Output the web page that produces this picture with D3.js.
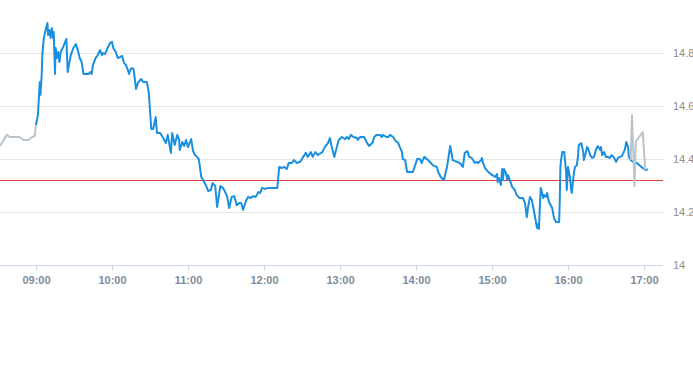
<!DOCTYPE html>
<html>
<head>
<meta charset="utf-8">
<script src="https://cdn.jsdelivr.net/npm/d3@7"></script>
<style>
  body { margin: 0; background: #fff; }
  svg { display: block; font-family: "Liberation Sans", Arial, sans-serif; }
</style>
</head>
<body>
<div class="chart"></div>
<script>
// extended hours (grey) and regular session (blue), [time, price]
var preMarket = [
  ["08:30", 14.442], ["08:32", 14.453], ["08:37", 14.491], ["08:39:30", 14.483],
  ["08:47", 14.483], ["08:50", 14.472], ["08:54", 14.472], ["08:57", 14.483],
  ["08:59", 14.487], ["09:00", 14.528]
];

var session = [
  ["09:00", 14.528], ["09:01:30", 14.566], ["09:03", 14.691], ["09:03:30", 14.642],
  ["09:04:30", 14.717], ["09:05", 14.792], ["09:06", 14.849], ["09:07", 14.875],
  ["09:08", 14.894], ["09:09", 14.913], ["09:09:30", 14.868], ["09:10:30", 14.887],
  ["09:11:30", 14.857], ["09:12:30", 14.894], ["09:13:30", 14.857], ["09:14", 14.879],
  ["09:15", 14.721], ["09:15:30", 14.819], ["09:16:30", 14.781], ["09:17:30", 14.804],
  ["09:18:30", 14.766], ["09:19:30", 14.804], ["09:21:30", 14.823], ["09:23", 14.842],
  ["09:24", 14.853], ["09:25", 14.728], ["09:26", 14.755], ["09:27:30", 14.792],
  ["09:29:30", 14.819], ["09:31:30", 14.834], ["09:33", 14.811], ["09:34:30", 14.781],
  ["09:36", 14.766], ["09:37:30", 14.721], ["09:41:30", 14.721], ["09:43", 14.728],
  ["09:44", 14.721], ["09:45", 14.755], ["09:47", 14.781], ["09:48:30", 14.789],
  ["09:50:30", 14.811], ["09:52", 14.792], ["09:53", 14.800], ["09:54:30", 14.796],
  ["09:56:30", 14.819], ["09:58:30", 14.838], ["10:00", 14.842], ["10:01", 14.819],
  ["10:03", 14.804], ["10:04:30", 14.781], ["10:06:30", 14.785], ["10:08", 14.789],
  ["10:09:30", 14.762], ["10:11", 14.755], ["10:12:30", 14.736], ["10:13:30", 14.721],
  ["10:14:30", 14.736], ["10:15:30", 14.743], ["10:17", 14.740], ["10:19", 14.664],
  ["10:20:30", 14.687], ["10:23", 14.702], ["10:24:30", 14.691], ["10:27:30", 14.691],
  ["10:29", 14.653], ["10:31", 14.513], ["10:32:30", 14.513], ["10:34:30", 14.558],
  ["10:35:30", 14.498], ["10:38", 14.498], ["10:40:30", 14.479], ["10:42:30", 14.460],
  ["10:44", 14.491], ["10:46:30", 14.423], ["10:47:30", 14.498], ["10:49:30", 14.453],
  ["10:51:30", 14.491], ["10:53", 14.472], ["10:53:30", 14.434], ["10:55:30", 14.464],
  ["10:57", 14.449], ["10:58:30", 14.472], ["11:00", 14.445], ["11:02:30", 14.475],
  ["11:04", 14.430], ["11:05:30", 14.415], ["11:07", 14.408], ["11:08:30", 14.400],
  ["11:10:30", 14.332], ["11:12", 14.321], ["11:14", 14.302], ["11:16", 14.279],
  ["11:18", 14.283], ["11:19:30", 14.309], ["11:21:30", 14.298], ["11:23", 14.219],
  ["11:25:30", 14.298], ["11:27:30", 14.291], ["11:29", 14.279], ["11:31", 14.257],
  ["11:32:30", 14.215], ["11:34:30", 14.257], ["11:36:30", 14.260], ["11:38:30", 14.226],
  ["11:40:30", 14.234], ["11:42", 14.234], ["11:43:30", 14.208], ["11:46", 14.245],
  ["11:47:30", 14.257], ["11:49:30", 14.253], ["11:51:30", 14.260], ["11:53:30", 14.257],
  ["11:55:30", 14.275], ["11:57", 14.272], ["11:58:30", 14.291], ["12:01", 14.287],
  ["12:03", 14.291], ["12:10:30", 14.291], ["12:12", 14.370], ["12:14", 14.366],
  ["12:16", 14.370], ["12:18", 14.362], ["12:19:30", 14.385], ["12:22", 14.385],
  ["12:23:30", 14.396], ["12:26", 14.385], ["12:28:30", 14.389], ["12:31", 14.408],
  ["12:33", 14.423], ["12:34:30", 14.408], ["12:37", 14.426], ["12:38:30", 14.408],
  ["12:40:30", 14.426], ["12:42:30", 14.415], ["12:46", 14.426], ["12:48", 14.445],
  ["12:50:30", 14.460], ["12:52", 14.479], ["12:53:30", 14.445], ["12:55:30", 14.408],
  ["12:57:30", 14.445], ["12:59", 14.472], ["13:01:30", 14.483], ["13:04", 14.475],
  ["13:05:30", 14.483], ["13:07", 14.475], ["13:08:30", 14.491], ["13:10:30", 14.483],
  ["13:13:30", 14.479], ["13:14", 14.472], ["13:16", 14.483], ["13:19", 14.483],
  ["13:21:30", 14.460], ["13:23", 14.449], ["13:25:30", 14.460], ["13:27", 14.483],
  ["13:29", 14.491], ["13:31:30", 14.491], ["13:33", 14.483], ["13:34", 14.491],
  ["13:36:30", 14.483], ["13:38", 14.483], ["13:39:30", 14.491], ["13:42", 14.483],
  ["13:44", 14.468], ["13:46", 14.460], ["13:47:30", 14.442], ["13:49", 14.426],
  ["13:49:30", 14.400], ["13:51:30", 14.396], ["13:53", 14.351], ["13:57:30", 14.351],
  ["14:01", 14.400], ["14:03", 14.400], ["14:04:30", 14.385], ["14:06:30", 14.408],
  ["14:09:30", 14.396], ["14:12:30", 14.381], ["14:14", 14.374], ["14:16:30", 14.370],
  ["14:17:30", 14.351], ["14:19:30", 14.332], ["14:22", 14.321], ["14:24:30", 14.370],
  ["14:27", 14.449], ["14:29", 14.396], ["14:32:30", 14.389], ["14:34:30", 14.385],
  ["14:37", 14.370], ["14:38:30", 14.423], ["14:40:30", 14.430], ["14:42", 14.408],
  ["14:44", 14.404], ["14:45", 14.396], ["14:46:30", 14.385], ["14:48", 14.389],
  ["14:49", 14.385], ["14:51:30", 14.396], ["14:52", 14.404], ["14:53", 14.385],
  ["14:54:30", 14.366], ["14:57", 14.351], ["15:00", 14.340], ["15:02:30", 14.332],
  ["15:04", 14.343], ["15:04:30", 14.313], ["15:05:30", 14.328], ["15:07", 14.302],
  ["15:08", 14.362], ["15:08:30", 14.321], ["15:09:30", 14.362], ["15:11", 14.347],
  ["15:12", 14.321], ["15:12:30", 14.340], ["15:14", 14.321], ["15:16", 14.294],
  ["15:18", 14.283], ["15:19:30", 14.264], ["15:21:30", 14.253], ["15:24:30", 14.253],
  ["15:26", 14.234], ["15:27:30", 14.181], ["15:28:30", 14.219], ["15:30", 14.257],
  ["15:31:30", 14.245], ["15:32:30", 14.219], ["15:34", 14.181], ["15:35:30", 14.140],
  ["15:36:30", 14.155], ["15:37", 14.136], ["15:38:30", 14.291], ["15:40:30", 14.253],
  ["15:41", 14.264], ["15:42:30", 14.257], ["15:43:30", 14.272], ["15:45", 14.238],
  ["15:47:30", 14.215], ["15:49", 14.177], ["15:50:30", 14.162], ["15:53", 14.162],
  ["15:53:30", 14.245], ["15:54", 14.370], ["15:54:30", 14.396], ["15:55:30", 14.426],
  ["15:57", 14.426], ["15:58:30", 14.351], ["15:59", 14.283], ["16:00", 14.370],
  ["16:01:30", 14.332], ["16:02:30", 14.283], ["16:03", 14.272], ["16:04:30", 14.340],
  ["16:05:30", 14.370], ["16:07", 14.377], ["16:08", 14.415], ["16:08:30", 14.453],
  ["16:10:30", 14.460], ["16:12", 14.426], ["16:12:30", 14.396], ["16:14", 14.423],
  ["16:15", 14.445], ["16:16", 14.438], ["16:17:30", 14.415], ["16:19", 14.404],
  ["16:20:30", 14.408], ["16:22", 14.434], ["16:23:30", 14.449], ["16:25:30", 14.434],
  ["16:26", 14.445], ["16:27", 14.415], ["16:28:30", 14.426], ["16:30", 14.408],
  ["16:31:30", 14.408], ["16:33", 14.404], ["16:34:30", 14.415], ["16:36:30", 14.404],
  ["16:38", 14.389], ["16:39:30", 14.404], ["16:41", 14.408], ["16:42:30", 14.411],
  ["16:44", 14.426], ["16:45", 14.438], ["16:46", 14.464], ["16:47:30", 14.445],
  ["16:48", 14.408], ["16:49:30", 14.396], ["16:51:30", 14.389], ["16:54:30", 14.385],
  ["16:57", 14.374], ["16:59", 14.366], ["17:01:30", 14.358], ["17:03", 14.362]
];

var postMarket = [
  ["16:49:30", 14.396], ["16:50:30", 14.566], ["16:52:30", 14.298], ["16:53:30", 14.464],
  ["16:55:30", 14.479], ["16:59", 14.502], ["17:01", 14.358]
];

var prevClose = 14.32;
var priceTicks = [14, 14.2, 14.4, 14.6, 14.8];
var timeStart = "08:30", timeEnd = "17:15";

var width = 693, height = 365;
var plotW = 663, plotH = 265;

var parseHM = d3.timeParse("%H:%M"), parseHMS = d3.timeParse("%H:%M:%S");
function parseT(s) { return s.length > 5 ? parseHMS(s) : parseHM(s); }

var x = d3.scaleTime()
    .domain([parseT(timeStart), parseT(timeEnd)])
    .range([-2, plotW]);
var y = d3.scaleLinear().domain([14, 15]).range([plotH, 0]);

var svg = d3.select("div.chart").append("svg")
    .attr("width", width)
    .attr("height", height);

svg.append("rect").attr("width", width).attr("height", height).attr("fill", "#fff");

// horizontal grid
svg.append("g").selectAll("line")
    .data(priceTicks.filter(function(d) { return d > 14; }))
    .enter().append("line")
    .attr("x1", 0).attr("x2", plotW)
    .attr("y1", function(d) { return Math.round(y(d)) + 0.5; })
    .attr("y2", function(d) { return Math.round(y(d)) + 0.5; })
    .attr("stroke", "#e6e6e6");

// y labels on the right
svg.append("g").selectAll("text")
    .data(priceTicks)
    .enter().append("text")
    .attr("x", 673)
    .attr("y", function(d) { return y(d) + 4; })
    .attr("font-size", 11)
    .attr("fill", "#8c8c8c")
    .text(function(d) { return +d.toFixed(1); });

// x axis
var xAxis = d3.axisBottom(x)
    .ticks(d3.timeHour.every(1))
    .tickFormat(d3.timeFormat("%H:%M"))
    .tickSize(5)
    .tickSizeOuter(0)
    .tickPadding(6);

var gx = svg.append("g")
    .attr("transform", "translate(0," + (plotH + 0.5) + ")")
    .call(xAxis);
gx.select(".domain").remove();
gx.append("line").attr("x1", 0).attr("x2", plotW).attr("stroke", "#ccd6eb");
gx.selectAll(".tick").filter(function(d) { return d < parseT("09:00"); }).remove();
gx.selectAll(".tick line").attr("stroke", "#ccd6eb");
gx.selectAll(".tick text")
    .attr("fill", "#7f8b99")
    .attr("font-size", 11)
    .attr("font-weight", "bold")
    .attr("font-family", "'Liberation Sans', Arial, sans-serif");

// previous close
svg.append("line")
    .attr("x1", 0).attr("x2", plotW)
    .attr("y1", Math.round(y(prevClose)) + 0.5)
    .attr("y2", Math.round(y(prevClose)) + 0.5)
    .attr("stroke", "#d9403a");

var line = d3.line()
    .x(function(d) { return x(parseT(d[0])); })
    .y(function(d) { return y(d[1]); });

svg.append("path")
    .datum(session)
    .attr("d", line)
    .attr("fill", "none")
    .attr("stroke", "#1a8fe0")
    .attr("stroke-width", 2)
    .attr("stroke-linejoin", "round");

[preMarket, postMarket].forEach(function(s) {
    svg.append("path")
        .datum(s)
        .attr("d", line)
        .attr("fill", "none")
        .attr("stroke", "#b9c4cc")
        .attr("stroke-width", 2)
        .attr("stroke-linejoin", "round");
});
</script>
</body>
</html>
